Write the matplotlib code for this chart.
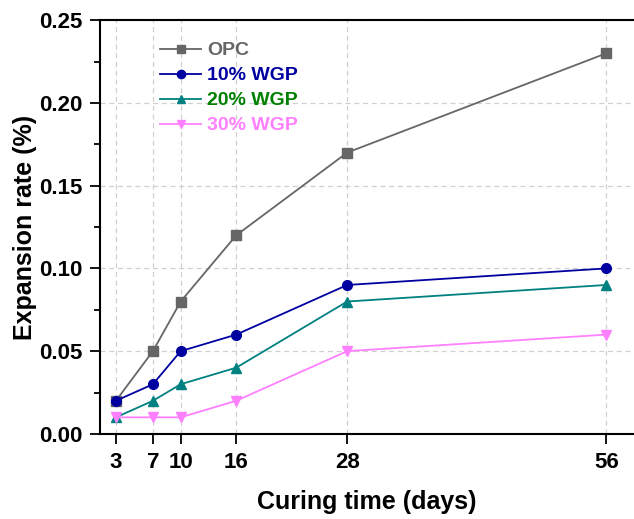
import matplotlib
matplotlib.use("Agg")
import matplotlib.pyplot as plt
from matplotlib.ticker import MultipleLocator, FormatStrFormatter

days = [3, 7, 10, 16, 28, 56]
opc = [0.02, 0.05, 0.08, 0.12, 0.17, 0.23]
wgp10 = [0.02, 0.03, 0.05, 0.06, 0.09, 0.10]
wgp20 = [0.01, 0.02, 0.03, 0.04, 0.08, 0.09]
wgp30 = [0.01, 0.01, 0.01, 0.02, 0.05, 0.06]

labels = ["OPC", "10% WGP", "20% WGP", "30% WGP"]
line_colors = ["#666666", "#0000a0", "#008080", "#ff80ff"]
text_colors = ["#666666", "#0000a0", "#008000", "#ff80ff"]
markers = ["s", "o", "^", "v"]

plt.rcParams["font.family"] = ["Liberation Sans", "DejaVu Sans"]
plt.rcParams["font.weight"] = "bold"

fig = plt.figure(figsize=(6.34, 5.19), dpi=100)
ax = fig.add_axes([0.158, 0.164, 0.842, 0.797])

for vals, lab, col, mk in zip([opc, wgp10, wgp20, wgp30], labels, line_colors, markers):
    ax.plot(days, vals, color=col, marker=mk, markersize=7, linewidth=1.3, label=lab)

ax.set_xlim(1.3, 59)
ax.set_ylim(0, 0.25)
ax.set_xticks(days)
ax.yaxis.set_major_locator(MultipleLocator(0.05))
ax.yaxis.set_minor_locator(MultipleLocator(0.025))
ax.yaxis.set_major_formatter(FormatStrFormatter("%.2f"))
ax.tick_params(axis="both", which="major", direction="out", length=7, width=1.3,
               labelsize=16, pad=6)
ax.tick_params(axis="y", which="minor", direction="out", length=4, width=1.3)
for lab in ax.get_xticklabels() + ax.get_yticklabels():
    lab.set_fontweight("bold")

ax.grid(True, which="major", linestyle=(0, (4, 3)), color="#d0d0d0", linewidth=0.9)
ax.set_axisbelow(True)

ax.spines["right"].set_visible(False)
for s in ["left", "bottom", "top"]:
    ax.spines[s].set_linewidth(1.5)

ax.set_xlabel("Curing time (days)", fontsize=18, fontweight="bold", labelpad=12)
ax.set_ylabel("Expansion rate (%)", fontsize=18, fontweight="bold", labelpad=1)

leg = ax.legend(loc="upper left", bbox_to_anchor=(0.08, 0.99), frameon=False,
                fontsize=14, handlelength=2.1, labelspacing=0.38, handletextpad=0.3,
                markerscale=0.85)
for txt, col in zip(leg.get_texts(), text_colors):
    txt.set_color(col)
    txt.set_fontweight("bold")

fig.savefig("out.png", dpi=100)
